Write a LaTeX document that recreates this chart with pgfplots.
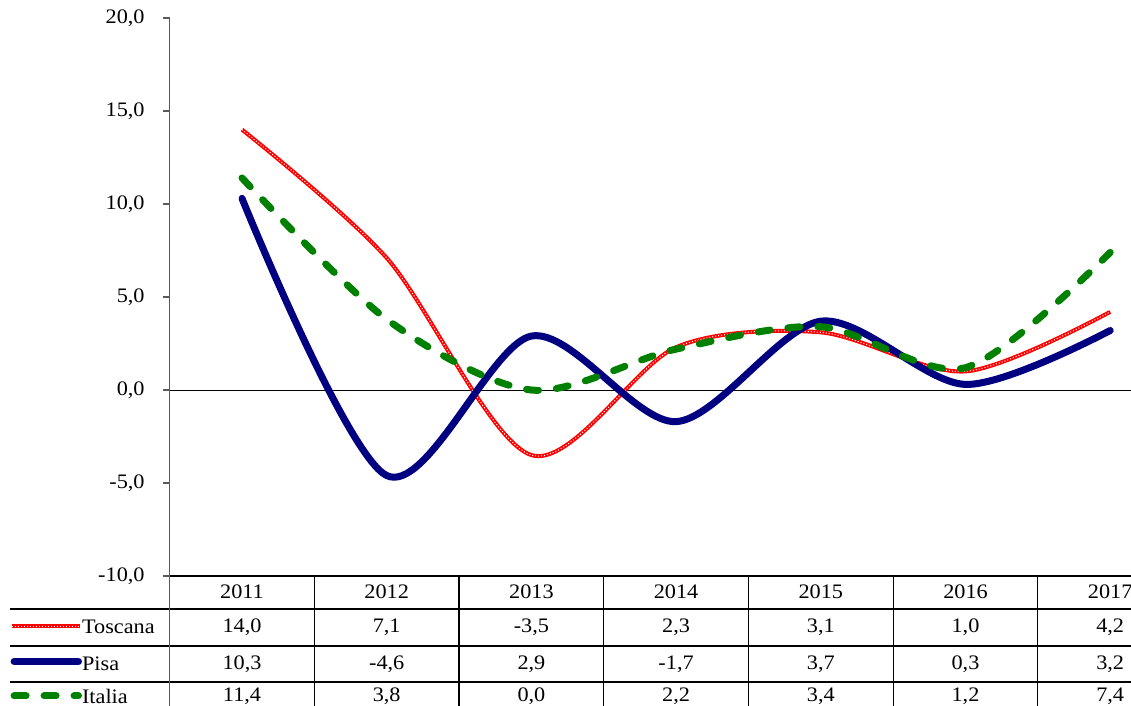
\documentclass[border=0pt]{standalone}
\usepackage{pgfplots}
\pgfplotsset{compat=1.18}
\usepackage{fontspec}
\setmainfont{Liberation Serif}[FakeStretch=1.08]
\definecolor{navy}{RGB}{0,0,128}
\definecolor{xlgreen}{RGB}{0,128,0}
\definecolor{axgray}{RGB}{90,90,90}
\begin{document}
\begin{tikzpicture}
\begin{axis}[
  x=72.35pt, y=9.3pt,
  xmin=-0.5, xmax=6.144,
  ymin=-10, ymax=20,
  axis x line=none,
  axis y line*=left,
  y axis line style={axgray, line width=0.6pt, -},
  ytick={-10,-5,...,20},
  ytick style={axgray, line width=0.6pt},
  tick align=outside,
  major tick length=3.5pt,
  yticklabel style={xshift=-5.5pt, font=\fontsize{10.3}{12}\selectfont, /pgf/number format/.cd, fixed, fixed zerofill, precision=1, use comma, assume math mode=true},
  clip=false,
  font=\fontsize{10.3}{12}\selectfont,
]
% zero line
\draw[black, line width=0.5pt] (axis cs:-0.5,0) -- (axis cs:6.2,0);
% table grid
\draw[black, line width=0.6pt] (axis cs:-0.5,-10) -- (axis cs:6.2,-10);
\draw[black, line width=0.6pt] (axis cs:-1.603,-11.77) -- (axis cs:6.2,-11.77);
\draw[black, line width=0.6pt] (axis cs:-1.603,-13.76) -- (axis cs:6.2,-13.76);
\draw[black, line width=0.6pt] (axis cs:-1.603,-15.70) -- (axis cs:6.2,-15.70);
\draw[axgray, line width=0.6pt] (axis cs:-0.5,-10) -- (axis cs:-0.5,-17.5);
\draw[black, line width=0.6pt] (axis cs:0.5,-10) -- (axis cs:0.5,-17.5);
\draw[black, line width=0.6pt] (axis cs:1.5,-10) -- (axis cs:1.5,-17.5);
\draw[black, line width=0.6pt] (axis cs:2.5,-10) -- (axis cs:2.5,-17.5);
\draw[black, line width=0.6pt] (axis cs:3.5,-10) -- (axis cs:3.5,-17.5);
\draw[black, line width=0.6pt] (axis cs:4.5,-10) -- (axis cs:4.5,-17.5);
\draw[black, line width=0.6pt] (axis cs:5.5,-10) -- (axis cs:5.5,-17.5);

% series
\addplot[red, line width=2pt, smooth] coordinates {(0,14.0) (1,7.1) (2,-3.5) (3,2.3) (4,3.1) (5,1.0) (6,4.2)};
\addplot[white, line width=0.5pt, dash pattern=on 0.5pt off 1pt, smooth] coordinates {(0,14.0) (1,7.1) (2,-3.5) (3,2.3) (4,3.1) (5,1.0) (6,4.2)};
\addplot[navy, line width=3.5pt, smooth, line cap=round] coordinates {(0,10.3) (1,-4.6) (2,2.9) (3,-1.7) (4,3.7) (5,0.3) (6,3.2)};
\addplot[xlgreen, line width=3.5pt, smooth, line cap=round, dash pattern=on 6pt off 9pt] coordinates {(0,11.4) (1,3.8) (2,0.0) (3,2.2) (4,3.4) (5,1.2) (6,7.4)};

% legend keys in table
\draw[red, line width=2pt] (axis cs:-1.589,-12.70) -- (axis cs:-1.120,-12.70);
\draw[white, line width=0.5pt, dash pattern=on 0.5pt off 1pt] (axis cs:-1.589,-12.70) -- (axis cs:-1.120,-12.70);
\draw[navy, line width=3.5pt, line cap=round] (axis cs:-1.575,-14.60) -- (axis cs:-1.130,-14.60);
\draw[xlgreen, line width=3.5pt, line cap=round, dash pattern=on 6pt off 9pt] (axis cs:-1.575,-16.45) -- (axis cs:-1.130,-16.45);
\node[anchor=west, inner sep=0pt] at (axis cs:-1.108,-12.74) {Toscana};
\node[anchor=west, inner sep=0pt] at (axis cs:-1.108,-14.73) {Pisa};
\node[anchor=west, inner sep=0pt] at (axis cs:-1.108,-16.45) {Italia};

% header
\node at (axis cs:0,-10.86) {2011};
\node at (axis cs:1,-10.86) {2012};
\node at (axis cs:2,-10.86) {2013};
\node at (axis cs:3,-10.86) {2014};
\node at (axis cs:4,-10.86) {2015};
\node at (axis cs:5,-10.86) {2016};
\node at (axis cs:6,-10.86) {2017};
% Toscana row
\node at (axis cs:0,-12.74) {14,0};
\node at (axis cs:1,-12.74) {7,1};
\node at (axis cs:2,-12.74) {-3,5};
\node at (axis cs:3,-12.74) {2,3};
\node at (axis cs:4,-12.74) {3,1};
\node at (axis cs:5,-12.74) {1,0};
\node at (axis cs:6,-12.74) {4,2};
% Pisa row
\node at (axis cs:0,-14.73) {10,3};
\node at (axis cs:1,-14.73) {-4,6};
\node at (axis cs:2,-14.73) {2,9};
\node at (axis cs:3,-14.73) {-1,7};
\node at (axis cs:4,-14.73) {3,7};
\node at (axis cs:5,-14.73) {0,3};
\node at (axis cs:6,-14.73) {3,2};
% Italia row
\node at (axis cs:0,-16.45) {11,4};
\node at (axis cs:1,-16.45) {3,8};
\node at (axis cs:2,-16.45) {0,0};
\node at (axis cs:3,-16.45) {2,2};
\node at (axis cs:4,-16.45) {3,4};
\node at (axis cs:5,-16.45) {1,2};
\node at (axis cs:6,-16.45) {7,4};

\coordinate (bbA) at (axis cs:-1.6725,20.968);
\coordinate (bbB) at (axis cs:6.1437,-16.989);
\end{axis}
\pgfresetboundingbox
\path[use as bounding box] (bbA) rectangle (bbB);
\end{tikzpicture}
\end{document}
